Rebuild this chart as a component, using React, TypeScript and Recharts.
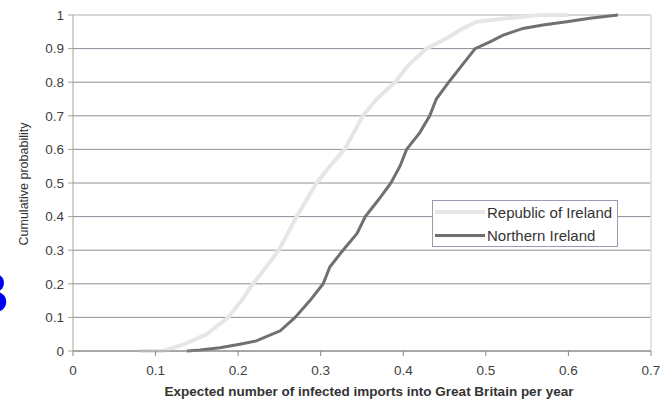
import { CartesianGrid, Line, LineChart, ReferenceLine, XAxis, YAxis } from "recharts";

const roiX = [0.08, 0.109, 0.134, 0.162, 0.188, 0.204, 0.218, 0.234, 0.249, 0.26, 0.271, 0.283, 0.295, 0.311, 0.329, 0.34, 0.351, 0.368, 0.39, 0.406, 0.428, 0.452, 0.472, 0.489, 0.525, 0.566, 0.6];
const roiY = [0, 0, 0.02, 0.05, 0.1, 0.15, 0.2, 0.25, 0.3, 0.35, 0.4, 0.45, 0.5, 0.55, 0.6, 0.65, 0.7, 0.75, 0.8, 0.85, 0.9, 0.93, 0.96, 0.98, 0.99, 1.0, 1.0];

const niX = [0.138, 0.154, 0.178, 0.202, 0.222, 0.251, 0.269, 0.287, 0.303, 0.311, 0.327, 0.344, 0.354, 0.37, 0.385, 0.396, 0.404, 0.42, 0.432, 0.44, 0.455, 0.471, 0.487, 0.505, 0.521, 0.545, 0.569, 0.598, 0.626, 0.66];
const niY = [0, 0.003, 0.01, 0.02, 0.03, 0.06, 0.1, 0.15, 0.2, 0.25, 0.3, 0.35, 0.4, 0.45, 0.5, 0.55, 0.6, 0.65, 0.7, 0.75, 0.8, 0.85, 0.9, 0.92, 0.94, 0.96, 0.97, 0.98, 0.99, 1.0];

const xTicks = [0, 0.1, 0.2, 0.3, 0.4, 0.5, 0.6, 0.7];
const yTicks = [0, 0.1, 0.2, 0.3, 0.4, 0.5, 0.6, 0.7, 0.8, 0.9, 1];

const SERIES = [
  { name: "Republic of Ireland", color: "#e6e6e6", width: 4 },
  { name: "Northern Ireland", color: "#707070", width: 3 },
];

const FONT = "'Liberation Sans', Arial, sans-serif";

const toPoints = (xs: number[], ys: number[]) => xs.map((x, i) => ({ x, y: ys[i] }));

export default function App() {
  const roi = toPoints(roiX, roiY);
  const ni = toPoints(niX, niY);
  const tick = { fontSize: 13.5, fill: "#404040", fontFamily: FONT };

  return (
    <div style={{ position: "absolute", left: 0, top: 0, width: 661, height: 402, background: "#fff", overflow: "hidden" }}>
      <LineChart width={661} height={402} margin={{ top: 15, right: 10, left: 0, bottom: 0 }}>
        <CartesianGrid horizontal vertical={false} stroke="#8e8e9c" />
        <XAxis
          type="number"
          dataKey="x"
          domain={[0, 0.7]}
          ticks={xTicks}
          height={51}
          tick={tick}
          tickSize={5}
          tickMargin={9}
          stroke="#888888"
          tickFormatter={(v: number) => String(v)}
        />
        <YAxis
          type="number"
          dataKey="y"
          domain={[0, 1]}
          ticks={yTicks}
          width={73}
          tick={tick}
          tickSize={5}
          tickMargin={4}
          stroke="#a6a690"
          tickFormatter={(v: number) => String(v)}
        />
        <ReferenceLine y={1} stroke="#dcdcd4" strokeWidth={1.5} />
        <ReferenceLine x={0.7} stroke="#dcdcd4" strokeWidth={1.5} />
        <Line
          data={roi}
          dataKey="y"
          name={SERIES[0].name}
          type="linear"
          stroke={SERIES[0].color}
          strokeWidth={SERIES[0].width}
          dot={false}
          isAnimationActive={false}
        />
        <Line
          data={ni}
          dataKey="y"
          name={SERIES[1].name}
          type="linear"
          stroke={SERIES[1].color}
          strokeWidth={SERIES[1].width}
          dot={false}
          isAnimationActive={false}
        />
      </LineChart>

      {/* legend */}
      <div
        style={{
          position: "absolute",
          left: 432,
          top: 200,
          width: 184,
          height: 45,
          border: "1px solid #9a9ab4",
          background: "#fff",
          fontFamily: FONT,
          fontSize: 15,
          color: "#333",
        }}
      >
        {SERIES.map((s, i) => (
          <div key={s.name} style={{ position: "absolute", left: 2, top: 2 + i * 23, height: 18, display: "flex", alignItems: "center" }}>
            <div style={{ width: 50, height: s.width, background: s.color }} />
            <span style={{ marginLeft: 2, whiteSpace: "nowrap" }}>{s.name}</span>
          </div>
        ))}
      </div>

      {/* axis titles */}
      <div
        style={{
          position: "absolute",
          left: 369,
          top: 384,
          transform: "translateX(-50%)",
          whiteSpace: "nowrap",
          fontFamily: FONT,
          fontWeight: "bold",
          fontSize: 13.5,
          color: "#333",
        }}
      >
        Expected number of infected imports into Great Britain per year
      </div>
      <div
        style={{
          position: "absolute",
          left: 24,
          top: 184,
          transform: "translate(-50%, -50%) rotate(-90deg)",
          whiteSpace: "nowrap",
          fontFamily: FONT,
          fontSize: 12.5,
          color: "#333",
        }}
      >
        Cumulative probability
      </div>

      {/* cropped panel letter */}
      <div
        style={{
          position: "absolute",
          right: 652,
          top: 258,
          fontFamily: FONT,
          fontWeight: "bold",
          fontSize: 58,
          lineHeight: "70px",
          color: "#0000f0",
        }}
      >
        B
      </div>
    </div>
  );
}
